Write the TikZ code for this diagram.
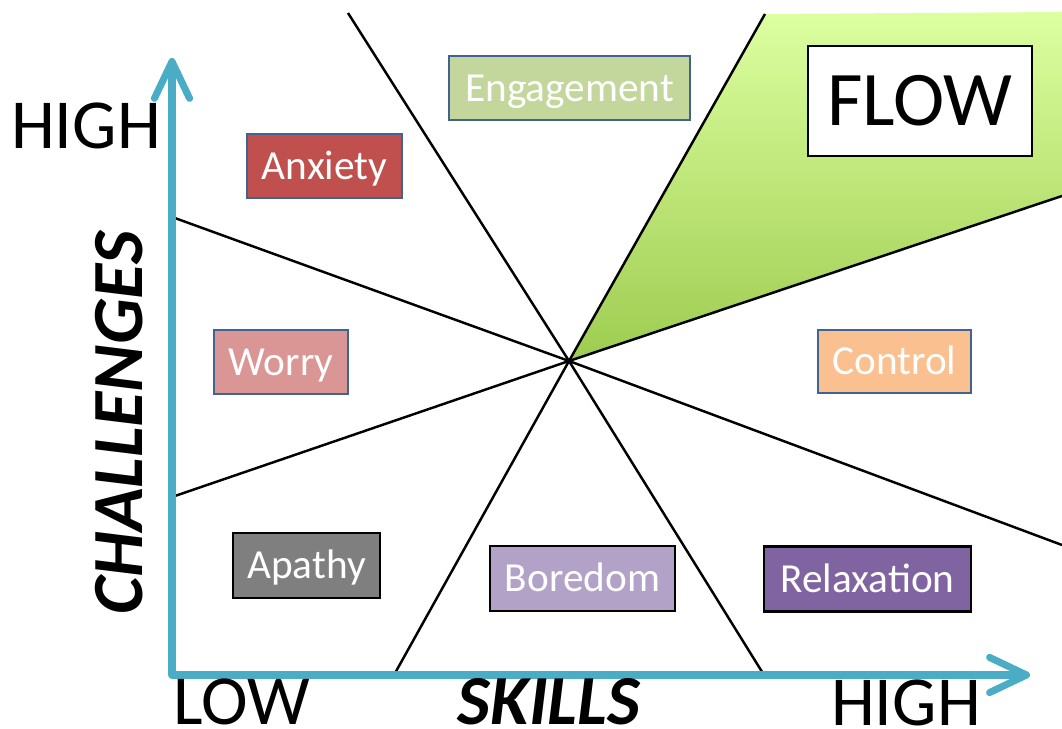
\documentclass[tikz,border=0pt]{standalone}
\usepackage{fontspec}
\setmainfont{Carlito}
\usetikzlibrary{arrows.meta}
\definecolor{axisblue}{RGB}{75,172,198}
\definecolor{zoneblue}{RGB}{66,98,145}
\definecolor{engfill}{RGB}{195,214,155}
\definecolor{anxfill}{RGB}{192,80,77}
\definecolor{worfill}{RGB}{217,150,148}
\definecolor{confill}{RGB}{250,192,144}
\definecolor{apafill}{RGB}{127,127,127}
\definecolor{borfill}{RGB}{179,162,199}
\definecolor{relfill}{RGB}{128,100,162}
\definecolor{flowtop}{RGB}{220,255,160}
\definecolor{flowbot}{RGB}{158,204,80}
\begin{document}
\begin{tikzpicture}[scale=0.2]
	\tikzstyle{every node}+=[inner sep=0pt]
	\tikzset{
		zone/.style={draw=#1, line width=1.2pt, text=white, font=\fontsize{23.5}{24}\selectfont, text height=15.1pt, text depth=0pt},
		axislabel/.style={font=\fontsize{40}{40}\selectfont},
		axistitle/.style={font=\fontsize{41}{41}\selectfont\bfseries\itshape},
		barb/.tip={Straight Barb[length=21pt, width=20pt, round]}
	}
	\useasboundingbox (0,0) rectangle (106.2,-72.9);
	% centre and line ends
	\coordinate (c) at (56.9,-36.1);
	\coordinate (a1) at (34.8,-1.3);
	\coordinate (a2) at (76.4,-67.5);
	\coordinate (e1) at (76.5,-1.4);
	\coordinate (e2) at (39.4,-67.5);
	\coordinate (b1) at (17.2,-21.7);
	\coordinate (b2) at (106.2,-54.5);
	\coordinate (d1) at (17.2,-49.7);
	\coordinate (d2) at (106.2,-19.6);
	\coordinate (fr) at (106.2,-1.2);
	\coordinate (o) at (17.2,-67.5);
	\coordinate (ytip) at (17.2,-5.8);
	\coordinate (xtip) at (103.0,-67.5);
	% flow channel
	\shade [top color=flowtop, bottom color=flowbot] (c) -- (e1) -- (fr) -- (d2) -- cycle;
	\draw [black, line width=1.4pt] (a1) -- (c) -- (a2);
	\draw [black, line width=1.4pt] (e1) -- (c) -- (e2);
	\draw [black, line width=1.4pt] (b1) -- (c) -- (b2);
	\draw [black, line width=1.4pt] (d1) -- (c) -- (d2);
	% axes
	\draw [axisblue, line width=4pt, line join=round, barb-barb] (ytip) -- (o) -- (xtip);
	% zones
	\node [zone=zoneblue, fill=engfill, minimum width=4.82cm, minimum height=1.28cm] (engagement) at (56.95,-8.8) {Engagement};
	\node [zone=zoneblue, fill=anxfill, minimum width=3.10cm, minimum height=1.28cm] (anxiety) at (32.45,-16.6) {Anxiety};
	\node [zone=zoneblue, fill=worfill, minimum width=2.68cm, minimum height=1.28cm] (worry) at (28.1,-36.2) {Worry};
	\node [zone=zoneblue, fill=confill, minimum width=3.06cm, minimum height=1.26cm] (control) at (89.45,-36.15) {Control};
	\node [zone=black, fill=apafill, minimum width=2.94cm, minimum height=1.30cm] (apathy) at (30.65,-56.55) {Apathy};
	\node [zone=black, fill=borfill, minimum width=3.70cm, minimum height=1.30cm] (boredom) at (58.25,-57.85) {Boredom};
	\node [zone=black, fill=relfill, minimum width=4.14cm, minimum height=1.30cm] (relaxation) at (86.75,-57.9) {Relaxation};
	\node [draw=black, fill=white, line width=1.4pt, minimum width=4.48cm, minimum height=2.2cm, font=\fontsize{44}{44}\selectfont] (flow) at (92.0,-10.1) {FLOW};
	% axis labels
	\node [axislabel] (highy) at (8.6,-12.55) {HIGH};
	\node [axislabel] (low) at (24.2,-70.2) {LOW};
	\node [axislabel] (highx) at (90.6,-70.3) {HIGH};
	\node [axistitle, font=\fontsize{40}{40}\selectfont\bfseries\itshape] (skills) at (54.9,-70.2) {SKILLS};
	\node [axistitle, rotate=90] (challenges) at (11.9,-42.3) {CHALLENGES};
\end{tikzpicture}
\end{document}
